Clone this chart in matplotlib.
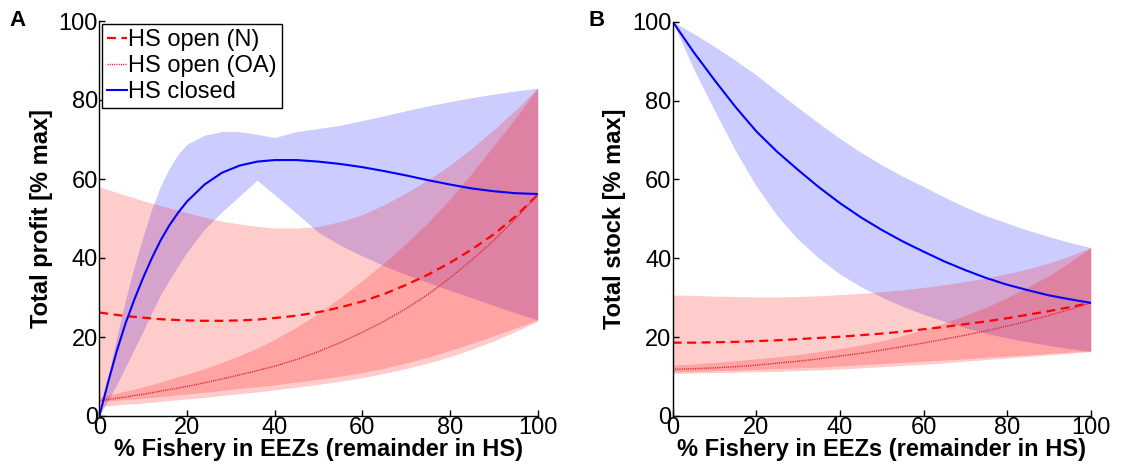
import matplotlib
matplotlib.use("Agg")
import matplotlib.pyplot as plt

plt.rcParams['font.family'] = ['Liberation Sans', 'DejaVu Sans']

# ---------------- Panel A : Total profit ----------------
xA = [0, 2, 4, 6, 8, 10, 12, 14, 16, 18, 20, 24, 28, 32, 36, 40, 45, 50, 55, 60,
      65, 70, 75, 80, 85, 90, 95, 100]

closedA = [0, 8.5, 16.5, 23.5, 29.5, 35, 40, 44.5, 48.3, 51.5, 54.3, 58.6, 61.6, 63.4,
           64.4, 64.8, 64.8, 64.4, 63.8, 63, 62, 60.9, 59.7, 58.6, 57.6, 56.9, 56.4, 56.2]
closedA_hi = [0, 10, 20, 29.5, 38, 45.5, 52.5, 58.3, 62.8, 66.3, 68.8, 71.1, 72, 72, 71.3,
              70.5, 72, 72.8, 73.6, 74.8, 76, 77.3, 78.5, 79.6, 80.6, 81.5, 82.3, 83]
closedA_lo = [0, 4, 8, 12.5, 17, 21.5, 26.3, 30.7, 34.5, 38, 41.5, 47.3, 51.7, 55.7, 59.7,
              56, 51.3, 46.5, 43.2, 40.5, 38, 35.8, 33.8, 31.8, 29.9, 28, 26.1, 24.3]

openN_A = [26.2, 25.9, 25.6, 25.3, 25.1, 24.9, 24.7, 24.5, 24.4, 24.3, 24.2, 24.1, 24.1,
           24.2, 24.4, 24.8, 25.4, 26.3, 27.5, 29, 30.9, 33.2, 35.8, 38.8, 42.2, 46, 50.6, 56]
openN_A_hi = [58, 57.3, 56.6, 55.9, 55.2, 54.5, 53.9, 53.3, 52.7, 52.1, 51.5, 50.3, 49.3,
              48.6, 48, 47.6, 47.6, 48, 49.2, 51, 53.5, 56.5, 59.8, 63.5, 67.8, 72.5, 77.5, 83]
openN_A_lo = [2.4, 2.6, 2.8, 3, 3.1, 3.3, 3.5, 3.7, 3.9, 4.1, 4.3, 4.7, 5.2, 5.6, 6.1, 6.6,
              7.3, 8, 8.8, 9.7, 10.8, 12, 13.4, 15, 16.9, 19, 21.4, 24]

openOA_A = [3.9, 4.2, 4.5, 4.8, 5.2, 5.5, 5.9, 6.3, 6.7, 7.1, 7.5, 8.4, 9.4, 10.4, 11.5,
            12.6, 14.3, 16.3, 18.6, 21.2, 24, 27.2, 30.8, 35, 39.5, 44.5, 50, 56]
openOA_A_hi = [4.9, 5.3, 5.8, 6.3, 6.8, 7.4, 8, 8.6, 9.3, 10, 10.6, 12, 13.6, 15.3, 17.2,
               19.4, 22.5, 26, 30, 34.3, 38.8, 43.7, 49, 55, 61.5, 68.5, 75.5, 83]
openOA_A_lo = [3.6, 3.8, 4, 4.2, 4.3, 4.5, 4.7, 4.9, 5.1, 5.4, 5.6, 6, 6.5, 7, 7.4, 7.9,
               8.6, 9.3, 10.1, 11, 12.1, 13.4, 14.9, 16.6, 18.4, 20.3, 22.3, 24.3]

# ---------------- Panel B : Total stock ----------------
xB = [0, 5, 10, 15, 20, 25, 30, 35, 40, 45, 50, 55, 60, 65, 70, 75, 80, 85, 90, 95, 100]

closedB = [100, 92.3, 85.2, 78.4, 72.2, 67, 62.4, 58, 54, 50.4, 47.2, 44.3, 41.7, 39.2,
           37, 35, 33.3, 31.9, 30.6, 29.6, 28.7]
closedB_hi = [100, 97, 93.7, 90.2, 86.5, 82.3, 78.2, 74.2, 70.4, 66.9, 63.7, 60.8, 58.2,
              55.5, 53, 50.8, 48.9, 47.1, 45.5, 44, 42.7]
closedB_lo = [100, 88, 77.5, 67.3, 58.3, 50.8, 44.8, 40, 36, 32.8, 30.2, 27.8, 25.8, 24,
              22.4, 21, 19.8, 18.8, 17.9, 17.1, 16.4]

openN_B = [18.6, 18.6, 18.7, 18.8, 19, 19.2, 19.5, 19.8, 20.1, 20.5, 20.9, 21.4, 22, 22.6,
           23.3, 24, 24.8, 25.7, 26.6, 27.6, 28.7]
openN_B_hi = [30.7, 30.6, 30.4, 30.3, 30.2, 30.2, 30.3, 30.5, 30.8, 31.1, 31.5, 32, 32.6,
              33.3, 34.1, 35, 36.1, 37.3, 38.8, 40.6, 42.7]
openN_B_lo = [10.8, 10.9, 11, 11.1, 11.2, 11.3, 11.5, 11.7, 11.9, 12.2, 12.5, 12.8, 13.1,
              13.5, 13.9, 14.3, 14.7, 15.1, 15.5, 15.9, 16.3]

openOA_B = [11.8, 12, 12.2, 12.5, 12.9, 13.4, 13.9, 14.5, 15.2, 15.9, 16.7, 17.6, 18.5,
            19.5, 20.5, 21.6, 22.8, 24.1, 25.5, 27, 28.7]
openOA_B_hi = [12.9, 13.2, 13.6, 14, 14.5, 15, 15.6, 16.3, 17.1, 18, 19.1, 20.4, 21.9,
               23.6, 25.5, 27.6, 30, 32.7, 35.6, 39, 42.7]
openOA_B_lo = [11.2, 11.3, 11.5, 11.6, 11.8, 12, 12.2, 12.4, 12.7, 13, 13.3, 13.6, 13.9,
               14.2, 14.5, 14.9, 15.2, 15.5, 15.9, 16.2, 16.5]

ticks = [0, 20, 40, 60, 80, 100]
xlabel = "% Fishery in EEZs (remainder in HS)"
ylabels = ["Total profit [% max]", "Total stock [% max]"]
panel_letters = ["A", "B"]
legend_labels = ["HS open (N)", "HS open (OA)", "HS closed"]

fig = plt.figure(figsize=(11.39, 4.67), dpi=100)
axA = fig.add_axes([99.3 / 1139, 51 / 467, 438.4 / 1139, 395 / 467])
axB = fig.add_axes([672.7 / 1139, 51 / 467, 418 / 1139, 394.3 / 467])

FA = 0.2
panels = [
    (axA, xA, closedA, closedA_lo, closedA_hi, openN_A, openN_A_lo, openN_A_hi,
     openOA_A, openOA_A_lo, openOA_A_hi),
    (axB, xB, closedB, closedB_lo, closedB_hi, openN_B, openN_B_lo, openN_B_hi,
     openOA_B, openOA_B_lo, openOA_B_hi),
]

for i, (ax, x, c, clo, chi, n, nlo, nhi, oa, oalo, oahi) in enumerate(panels):
    ax.fill_between(x, clo, chi, color='blue', alpha=FA, linewidth=0)
    ax.fill_between(x, nlo, nhi, color='red', alpha=FA, linewidth=0)
    ax.fill_between(x, oalo, oahi, color='red', alpha=FA, linewidth=0)
    l1, = ax.plot(x, n, color='red', linestyle=(0, (4, 2.5)), linewidth=1.6,
                  label=legend_labels[0])
    l2, = ax.plot(x, oa, color='#e0202a', linestyle=(0, (0.8, 0.8)), linewidth=1.0,
                  label=legend_labels[1])
    l3, = ax.plot(x, c, color='blue', linestyle='-', linewidth=1.5,
                  label=legend_labels[2])
    ax.set_xlim(0, 100)
    ax.set_ylim(0, 100)
    ax.set_xticks(ticks)
    ax.set_yticks(ticks)
    ax.tick_params(direction='in', length=4, width=1, labelsize=17, pad=1,
                   color='black')
    for side in ['top', 'right']:
        ax.spines[side].set_visible(False)
    for side in ['left', 'bottom']:
        ax.spines[side].set_linewidth(1.0)
    ax.set_xlabel(xlabel, fontsize=17, fontweight='bold', labelpad=-1)
    ax.set_ylabel(ylabels[i], fontsize=17, fontweight='bold', labelpad=4)
    if i == 0:
        leg = ax.legend(handles=[l1, l2, l3], loc='upper left',
                        bbox_to_anchor=(0.006, 0.992), fontsize=17,
                        frameon=True, fancybox=False, framealpha=1,
                        edgecolor='black', handlelength=0.85, handletextpad=0.05,
                        borderpad=0.22, labelspacing=0.16, borderaxespad=0)
        leg.get_frame().set_linewidth(1.0)

fig.text(17 / 1139, 1 - 20 / 467, panel_letters[0], fontsize=16, fontweight='bold',
         ha='center', va='center')
fig.text(597 / 1139, 1 - 20 / 467, panel_letters[1], fontsize=16, fontweight='bold',
         ha='center', va='center')

fig.savefig("out.png", dpi=100)
